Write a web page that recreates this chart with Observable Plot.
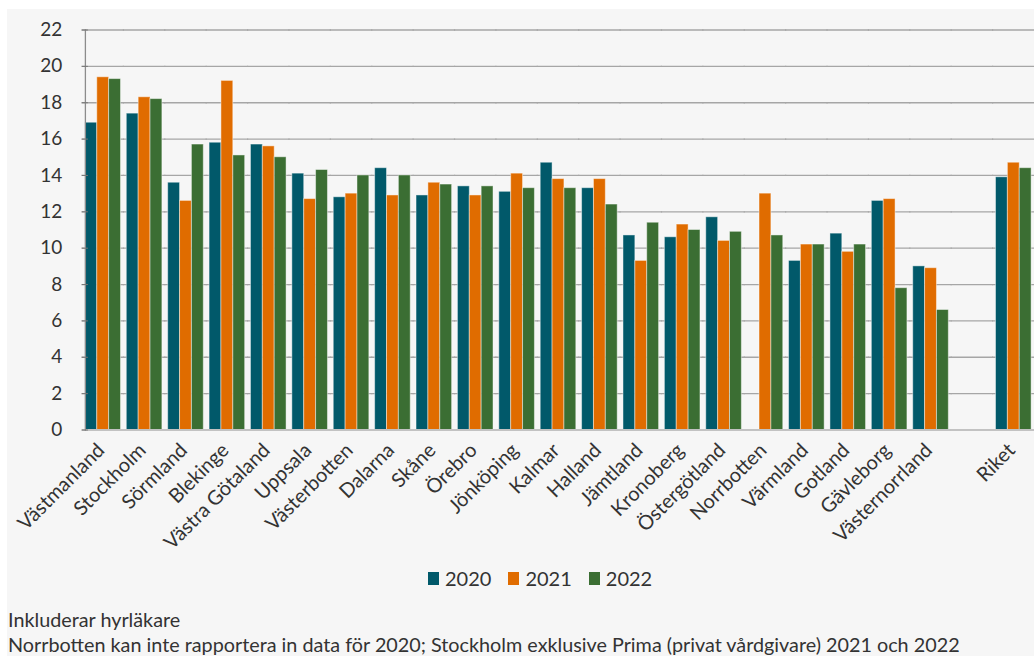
<!DOCTYPE html>
<html>
<head>
<meta charset="utf-8">
<script src="https://cdn.jsdelivr.net/npm/d3@7"></script>
<script src="https://cdn.jsdelivr.net/npm/@observablehq/plot@0.6"></script>
<style>
  body { margin: 0; background: #fff; font-family: Lato, "Open Sans", sans-serif; color: #333; }
  #panel { position: absolute; left: 7px; top: 9px; width: 1027px; height: 647px; background: #f6f6f6; overflow: hidden; }
  #chart { position: absolute; left: 0; top: 0; }
  #legend { position: absolute; left: 421px; top: 557px; display: flex; align-items: center; font-size: 20px; }
  #legend .item { display: flex; align-items: center; margin-right: 17px; }
  #legend .sw { width: 11px; height: 13px; margin-right: 6px; }
  #caption { position: absolute; left: 1px; top: 598px; font-size: 19.8px; line-height: 25px; }
</style>
</head>
<body>
<div id="panel">
  <div id="chart"></div>
  <div id="legend"></div>
  <div id="caption">
    <div>Inkluderar hyrläkare</div>
    <div>Norrbotten kan inte rapportera in data för 2020; Stockholm exklusive Prima (privat vårdgivare) 2021 och 2022</div>
  </div>
</div>
<script>
// Regions in display order; "Riket" (national total) is set apart at the end
const regions = [
  "Västmanland", "Stockholm", "Sörmland", "Blekinge", "Västra Götaland", "Uppsala",
  "Västerbotten", "Dalarna", "Skåne", "Örebro", "Jönköping", "Kalmar", "Halland",
  "Jämtland", "Kronoberg", "Östergötland", "Norrbotten", "Värmland", "Gotland",
  "Gävleborg", "Västernorrland", "Riket"
];
const years = ["2020", "2021", "2022"];

// Values per year, same order as regions (Norrbotten has no 2020 figure)
const v2020 = [16.9, 17.4, 13.6, 15.8, 15.7, 14.1, 12.8, 14.4, 12.9, 13.4, 13.1, 14.7, 13.3,
               10.7, 10.6, 11.7, null, 9.3, 10.8, 12.6, 9.0, 13.9];
const v2021 = [19.4, 18.3, 12.6, 19.2, 15.6, 12.7, 13.0, 12.9, 13.6, 12.9, 14.1, 13.8, 13.8,
               9.3, 11.3, 10.4, 13.0, 10.2, 9.8, 12.7, 8.9, 14.7];
const v2022 = [19.3, 18.2, 15.7, 15.1, 15.0, 14.3, 14.0, 14.0, 13.5, 13.4, 13.3, 13.3, 12.4,
               11.4, 11.0, 10.9, 10.7, 10.2, 10.2, 7.8, 6.6, 14.4];

const yTicks = [0, 2, 4, 6, 8, 10, 12, 14, 16, 18, 20, 22];
const colors = ["#01596a", "#e06c00", "#3b6e33"];

// An empty slot separates the regions from the national total
const gap = " ";
const fxDomain = [...regions.slice(0, -1), gap, regions[regions.length - 1]];

const series = [v2020, v2021, v2022];
const rows = regions.flatMap((region, i) =>
  years.map((year, j) => ({region, year, value: series[j][i]}))
);
// keep the spacer facet alive so the gridlines run through it
rows.push({region: gap, year: years[0], value: null});

// Gridlines are drawn in every facet and stretched over the gaps between them
const stretch = {insetLeft: -3.5, insetRight: -3.5};

const chart = Plot.plot({
  width: 1027,
  height: 546,
  marginLeft: 75,
  marginRight: 0,
  marginTop: 20.5,
  marginBottom: 125.5,
  style: {background: "transparent", fontFamily: "Lato, 'Open Sans', sans-serif", color: "#333", overflow: "visible"},
  fx: {domain: fxDomain, paddingInner: 0.14, paddingOuter: 0.07, round: false, label: null},
  x: {domain: years, padding: 0, round: false, axis: null},
  y: {domain: [0, 22], axis: null},
  color: {domain: years, range: colors},
  marks: [
    Plot.ruleY(yTicks.slice(1), {stroke: "#a6a6a6", strokeWidth: 1.3, ...stretch}),
    Plot.barY(rows, {fx: "region", x: "year", y: "value", fill: "year",
                     stroke: "#ffffff", strokeOpacity: 0.45, strokeWidth: 1}),
    Plot.ruleY([0], {stroke: "#c2c2c2", strokeWidth: 2, ...stretch}),
    Plot.frame({anchor: "left", facet: "super", stroke: "#8c8c8c", strokeWidth: 1.3}),
    Plot.axisY({ticks: yTicks, tickSize: 0, tickPadding: 23, fontSize: 19, label: null}),
    Plot.axisY({ticks: yTicks, tickSize: -6, text: null, stroke: "#777", dx: -3, label: null}),
    Plot.axisFx({anchor: "bottom", tickRotate: -45, tickSize: 0, tickPadding: 17, dx: -2, fontSize: 20, label: null})
  ]
});
document.getElementById("chart").append(chart);

// Legend
const legend = d3.select("#legend");
years.forEach((y, i) => {
  const item = legend.append("div").attr("class", "item");
  item.append("div").attr("class", "sw").style("background", colors[i]);
  item.append("span").text(y);
});
</script>
</body>
</html>
